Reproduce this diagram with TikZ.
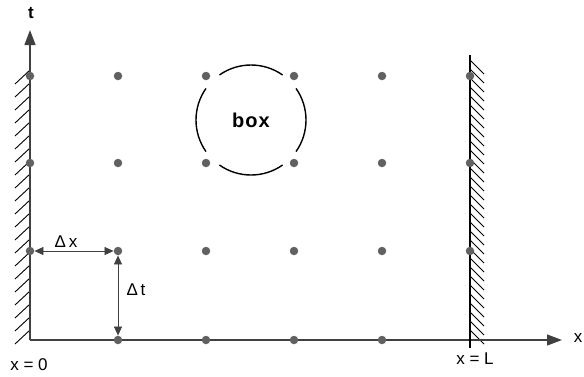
\documentclass[tikz,border=0pt]{standalone}
\usepackage{fontspec}
\setmainfont{Liberation Sans}
\usetikzlibrary{arrows.meta}
\tikzstyle{dot}=[circle, fill=black!62, inner sep=0pt, minimum size=8.5pt]
\tikzstyle{axis}=[-{Triangle[length=15pt,width=11pt]}, line width=1.3pt, draw=black!75, fill=black!75]
\tikzstyle{wall}=[line width=1.4pt]
\tikzstyle{hatch}=[line width=0.9pt]
\tikzstyle{step arrow}=[{Triangle[length=9pt,width=8pt]}-{Triangle[length=9pt,width=8pt]}, line width=0.7pt, draw=black!75]
\tikzstyle{lbl}=[font=\fontsize{17}{20}\selectfont, inner sep=1pt]

\begin{document}
\begin{tikzpicture}[x=1pt,y=-1pt]
\useasboundingbox (0,0) rectangle (584,376);
% walls and axes
\coordinate (o) at (30,340);
\coordinate (tend) at (30,30);
\coordinate (xend) at (562,340);
\coordinate (wtop) at (470,55);
\coordinate (wbot) at (470,348);
\foreach \y in {70,83,...,332} \draw[hatch] (30,\y) -- ++(-15,14);
\foreach \y in {60,69,...,332} \draw[hatch] (470,\y) -- ++(14,14);
\draw[axis] (o) -- (xend);
\draw[axis] (o) -- (tend);
\draw[wall] (wtop) -- (wbot);
% grid points
\foreach \i/\x in {0/30,1/118,2/206,3/294,4/382,5/470}
  \foreach \j/\y in {1/76,2/163,3/251}
    \node[dot] (d-\i-\j) at (\x,\y) {};
\foreach \i/\x in {1/118,2/206,3/294,4/382}
  \node[dot] (d-\i-0) at (\x,340) {};
% box
\node[lbl, font=\fontsize{20}{22}\selectfont\bfseries] (box) at (251,120) {b\kern1pt o\kern1pt x};
\foreach \a in {55,145,235,325}
  \draw[line width=1.4pt] (box.center) ++(\a:55) arc[start angle=\a, end angle=\a+70, radius=55];
% steps
\draw[step arrow] (d-0-3) -- (d-1-3);
\draw[step arrow] (d-1-3) -- (d-1-0);
\node[lbl] (dx) at (66,242) {Δ\,x};
\node[lbl] (dt) at (136,290) {Δ\,t};
% labels
\node[lbl, font=\fontsize{17}{20}\selectfont\bfseries] (tl) at (31,13) {t};
\node[lbl] (xl) at (578,338) {x};
\node[lbl] (x0) at (29,365) {x = 0};
\node[lbl] (xL) at (475,359) {x = L};
\end{tikzpicture}
\end{document}
